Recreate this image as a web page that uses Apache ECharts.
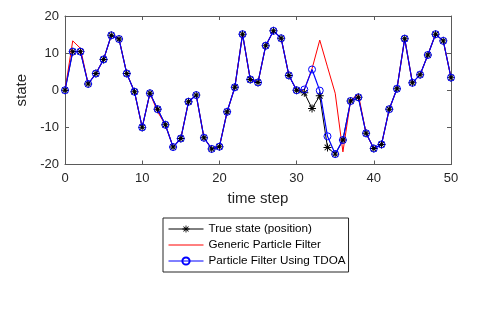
<!DOCTYPE html>
<html><head><meta charset="utf-8">
<script src="https://cdn.jsdelivr.net/npm/echarts@6/dist/echarts.min.js"></script>
<style>html,body{margin:0;padding:0;background:#fff}#c{width:498px;height:311px}</style>
</head><body><div id="c"></div>
<script>
const timeSteps = Array.from({length: 51}, (_, i) => i);
const trueState = [0, 10.4, 10.4, 1.7, 4.5, 8.3, 14.8, 13.8, 4.5, -0.4,
  -10.0, -0.8, -5.1, -9.3, -15.3, -13.0, -3.1, -1.3, -12.8, -15.8,
  -15.2, -5.8, 0.8, 15.1, 2.9, 2.1, 12.0, 16.0, 14.0, 4.0,
  0.0, -0.7, -4.9, -1.5, -15.4, -17.2, -13.4, -2.9, -1.9, -11.6,
  -15.7, -14.6, -5.1, 0.4, 13.9, 2.0, 4.2, 9.5, 15.1, 13.3, 3.4];
const genericPF = [0, 13.3, 11.3, 1.7, 4.5, 8.3, 14.8, 13.8, 4.5, -0.4,
  -10.0, -0.8, -5.8, -9.3, -15.3, -13.0, -3.1, -1.3, -12.8, -15.8,
  -15.2, -5.8, 0.8, 15.1, 2.9, 2.1, 12.0, 16.0, 14.0, 4.0,
  0.0, 0.1, 5.8, 13.5, 6.3, -0.8, -16.6, -2.7, -1.1, -11.6,
  -15.7, -14.6, -5.1, 0.4, 13.9, 2.0, 4.2, 9.5, 15.1, 13.3, 3.4];
const tdoaPF = [0, 10.4, 10.4, 1.7, 4.5, 8.3, 14.8, 13.8, 4.5, -0.4,
  -10.0, -0.8, -5.1, -9.3, -15.3, -13.0, -3.1, -1.3, -12.8, -15.8,
  -15.2, -5.8, 0.8, 15.1, 2.9, 2.1, 12.0, 16.0, 14.0, 4.0,
  0.0, 0.2, 5.6, -0.1, -12.4, -17.2, -13.4, -2.9, -1.9, -11.6,
  -15.7, -14.6, -5.1, 0.4, 13.9, 2.0, 4.2, 9.5, 15.1, 13.3, 3.4];
const seriesNames = ['True state (position)', 'Generic Particle Filter', 'Particle Filter Using TDOA'];
const xTicks = [0, 10, 20, 30, 40, 50];
const yTicks = [-20, -10, 0, 10, 20];

const star = 'path://M-0.6,-5L0.6,-5L0.6,5L-0.6,5Z M-5,-0.6L5,-0.6L5,0.6L-5,0.6Z M-3.12,-3.96L3.96,3.12L3.12,3.96L-3.96,-3.12Z M3.96,-3.12L-3.12,3.96L-3.96,3.12L3.12,-3.96Z';
const pairs = arr => timeSteps.map((t, i) => [t, arr[i]]);
const axisCol = '#5a5a5a';
const labelCol = '#262626';
const font = 'Liberation Sans, Arial, Helvetica, sans-serif';

const chart = echarts.init(document.getElementById('c'), null, {renderer: 'canvas'});
chart.setOption({
  animation: false,
  backgroundColor: '#fff',
  grid: {left: 65, right: 47, top: 16, bottom: 146.5, containLabel: false},
  xAxis: [{
    type: 'value', min: xTicks[0], max: xTicks[xTicks.length - 1], interval: 10,
    name: 'time step', nameLocation: 'middle', nameGap: 27,
    nameTextStyle: {fontFamily: font, fontSize: 15, color: labelCol},
    axisLine: {show: true, onZero: false, lineStyle: {color: axisCol, width: 1}},
    axisTick: {show: true, inside: true, length: 4, lineStyle: {color: axisCol}},
    axisLabel: {fontFamily: font, fontSize: 13, color: labelCol, margin: 7},
    splitLine: {show: false}
  }, {
    type: 'value', position: 'top', min: 0, max: 50, interval: 10,
    axisLine: {show: true, onZero: false, lineStyle: {color: axisCol, width: 1}},
    axisTick: {show: true, inside: true, length: 4, lineStyle: {color: axisCol}},
    axisLabel: {show: false}, splitLine: {show: false}
  }],
  yAxis: [{
    type: 'value', min: yTicks[0], max: yTicks[yTicks.length - 1], interval: 10,
    name: 'state', nameLocation: 'middle', nameGap: 28, nameRotate: 90,
    nameTextStyle: {fontFamily: font, fontSize: 15, color: labelCol},
    axisLine: {show: true, onZero: false, lineStyle: {color: axisCol, width: 1}},
    axisTick: {show: true, inside: true, length: 4, lineStyle: {color: axisCol}},
    axisLabel: {fontFamily: font, fontSize: 13, color: labelCol, margin: 6},
    splitLine: {show: false}
  }, {
    type: 'value', position: 'right', min: -20, max: 20, interval: 10,
    axisLine: {show: true, onZero: false, lineStyle: {color: axisCol, width: 1}},
    axisTick: {show: true, inside: true, length: 4, lineStyle: {color: axisCol}},
    axisLabel: {show: false}, splitLine: {show: false}
  }],
  legend: {
    left: 163, top: 218, orient: 'vertical',
    backgroundColor: '#fff', borderColor: '#262626', borderWidth: 1,
    padding: [5, 3, 5, 5], itemGap: 4, itemWidth: 35, itemHeight: 9,
    lineStyle: {width: 1},
    textStyle: {fontFamily: font, fontSize: 11.7, color: '#000'},
    data: [
      {name: seriesNames[0]},
      {name: seriesNames[1], itemStyle: {color: 'rgba(0,0,0,0)', borderWidth: 0, opacity: 0}},
      {name: seriesNames[2]}
    ]
  },
  series: [{
    name: seriesNames[0], type: 'line', data: pairs(trueState),
    symbol: star, symbolSize: 8, showAllSymbol: true,
    lineStyle: {color: '#000', width: 1}, itemStyle: {color: '#000'}
  }, {
    name: seriesNames[1], type: 'line', data: pairs(genericPF),
    symbol: 'none', showSymbol: false,
    lineStyle: {color: '#ff0000', width: 1}, itemStyle: {color: '#ff0000'}
  }, {
    name: seriesNames[2], type: 'line', data: pairs(tdoaPF),
    symbol: 'circle', symbolSize: 7, showAllSymbol: true,
    lineStyle: {color: '#0000ff', width: 1.2},
    itemStyle: {color: 'rgba(0,0,0,0)', borderColor: '#0000ff', borderWidth: 1}
  }]
});
</script></body></html>
